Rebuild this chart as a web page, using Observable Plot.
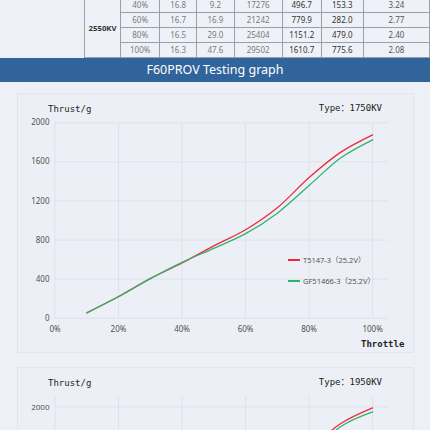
<!DOCTYPE html>
<html>
<head>
<meta charset="utf-8">
<script src="https://cdn.jsdelivr.net/npm/d3@7"></script>
<script src="https://cdn.jsdelivr.net/npm/@observablehq/plot@0.6"></script>
<style>
  html, body { margin: 0; padding: 0; }
  body { width: 430px; height: 430px; overflow: hidden; background: #edf1f7; position: relative; font-family: "Noto Sans", "Noto Sans CJK SC", sans-serif; }
  .abs { position: absolute; }
  table { position: absolute; left: 84px; top: -3px; border-collapse: collapse; table-layout: fixed; font-size: 8px; }
  td { border: 1px solid #9aa0a8; height: 14px; padding: 0; text-align: center; line-height: 14px; color: #7a7a7a; background: #eef2f8; }
  td.kv { font-weight: bold; color: #333; font-size: 7.8px; }
  td.dk { color: #333; }
  td.md { color: #555; }
  .banner { left: 0; top: 58px; width: 430px; height: 24px; background: #32649c; color: #fff; font-size: 12.5px; line-height: 24px; text-align: center; }
  .panel { left: 17px; width: 395px; border: 1px solid #e0e4eb; background: #ecf0f6; }
  .mono { font-family: "DejaVu Sans Mono", "Noto Sans CJK SC", monospace; font-size: 9px; line-height: 10px; color: #222; white-space: nowrap; }
  .leg { font-size: 7.5px; line-height: 10px; color: #555; white-space: nowrap; }
  .sw { width: 12px; height: 1.5px; }
</style>
</head>
<body>
<script>
// ---- table data (top of page, 2550KV block) ----
const tblThrottle = ["40%", "60%", "80%", "100%"];
const tblVoltage = ["16.8", "16.7", "16.5", "16.3"];
const tblCurrent = ["9.2", "16.9", "29.0", "47.6"];
const tblRpm = ["17276", "21242", "25404", "29502"];
const tblThrust = ["496.7", "779.9", "1151.2", "1610.7"];
const tblPower = ["153.3", "282.0", "479.0", "775.6"];
const tblEff = ["3.24", "2.77", "2.40", "2.08"];
const tblKV = "2550KV";

// ---- chart data ----
const throttle = [10, 20, 30, 40, 50, 60, 70, 80, 90, 100];
const series = ["T5147-3", "GF51466-3"];
const legendLabels = ["T5147-3（25.2V）", "GF51466-3（25.2V）"];
const colors = ["#f0283c", "#2bb56c"];
// 1750KV
const t5147_1750 = [55, 222, 405, 565, 740, 905, 1130, 1440, 1700, 1877];
const gf51466_1750 = [55, 220, 405, 572, 715, 865, 1075, 1358, 1642, 1826];
// 1950KV (only upper part visible)
const t5147_1950 = [65, 245, 440, 630, 820, 1010, 1260, 1560, 1830, 1990];
const gf51466_1950 = [65, 243, 440, 630, 800, 970, 1200, 1490, 1800, 1950];
const xTicks = [0, 20, 40, 60, 80, 100];
const yTicks = [0, 400, 800, 1200, 1600, 2000];

// ---- table ----
const widths = [36.7, 40.5, 38.5, 39, 50, 40, 43.7, 70];
const table = document.createElement("table");
const cg = document.createElement("colgroup");
widths.forEach(w => { const c = document.createElement("col"); c.style.width = w + "px"; cg.appendChild(c); });
table.appendChild(cg);
tblThrottle.forEach((t, i) => {
  const tr = document.createElement("tr");
  if (i === 0) {
    const td = document.createElement("td");
    td.rowSpan = tblThrottle.length; td.className = "kv"; td.textContent = tblKV;
    tr.appendChild(td);
  }
  const cells = [[t, ""], [tblVoltage[i], ""], [tblCurrent[i], ""], [tblRpm[i], ""], [tblThrust[i], "dk"], [tblPower[i], "dk"], [tblEff[i], "md"]];
  cells.forEach(([v, cls]) => { const td = document.createElement("td"); td.textContent = v; if (cls) td.className = cls; tr.appendChild(td); });
  table.appendChild(tr);
});
document.body.appendChild(table);

function el(cls, text, style) {
  const d = document.createElement("div");
  d.className = "abs " + cls;
  if (text) d.textContent = text;
  Object.assign(d.style, style);
  document.body.appendChild(d);
  return d;
}

el("banner", "F60PROV Testing graph", {});

function chart(red, green, ymax, top, marginTop, kv, full) {
  const pxPerG = 195.4 / 2000;
  const marginBottom = 34.3;
  const plotH = ymax * pxPerG;
  const height = marginTop + plotH + marginBottom;
  el("panel", "", { top: top + "px", height: "258px" });
  const data = throttle.flatMap((t, i) => [
    { t, v: red[i], s: series[0] },
    { t, v: green[i], s: series[1] }
  ]);
  // only label ticks that fall inside the visible page
  const visibleY = yTicks.filter(v => top + marginTop + (ymax - v) * pxPerG < 425);
  const marks = [
    Plot.ruleY(yTicks, { stroke: "#dde2ea", strokeWidth: 1 }),
    Plot.ruleX(xTicks, { stroke: "#dde2ea", strokeWidth: 1 }),
    Plot.axisY({ ticks: visibleY, tickSize: 0, tickPadding: 5.5, tickFormat: d => String(d), label: null })
  ];
  if (full) marks.push(Plot.axisX({ ticks: xTicks, tickSize: 0, tickPadding: 8, tickFormat: d => d + "%", label: null }));
  else marks.push(Plot.axisX({ ticks: [], label: null }));
  marks.push(Plot.line(data, { x: "t", y: "v", z: "s", stroke: "s", curve: "catmull-rom", strokeWidth: 1.3 }));
  const svg = Plot.plot({
    width: 430,
    height,
    marginLeft: 54.5,
    marginRight: 42,
    marginTop,
    marginBottom,
    x: { domain: [0, 105] },
    y: { domain: [0, ymax] },
    color: { domain: series, range: colors },
    style: { background: "transparent", fontFamily: "Noto Sans", fontSize: "8px", color: "#505050" },
    marks
  });
  svg.style.position = "absolute";
  svg.style.left = "0px";
  svg.style.top = top + "px";
  document.body.appendChild(svg);
  el("mono", "Thrust/g", { left: "48px", top: (top + 11) + "px" });
  el("mono", "Type：" + kv, { right: "48px", top: (top + 10) + "px" });
  if (full) {
    el("mono", "Throttle", { left: "361px", top: (top + 246) + "px", fontWeight: "bold" });
    legendLabels.forEach((lab, i) => {
      const cy = top + 167 + i * 21;
      el("sw", "", { left: "288px", top: (cy - 0.75) + "px", background: colors[i] });
      el("leg", lab, { left: "303px", top: (cy - 5) + "px" });
    });
  }
}

chart(t5147_1750, gf51466_1750, 2000, 93, 29.3, "1750KV", true);
chart(t5147_1950, gf51466_1950, 2100, 367, 29.7, "1950KV", false);
</script>
</body>
</html>
